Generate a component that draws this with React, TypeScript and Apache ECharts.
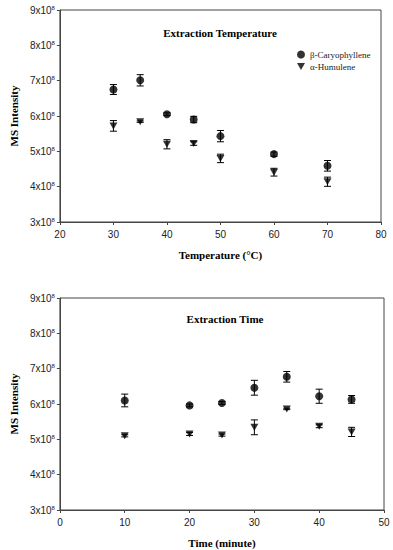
import React, { useEffect, useRef } from "react";
import * as echarts from "echarts";

// values in units of 10^8
const tempX = [30, 35, 40, 45, 50, 60, 70];
const tempCary = [6.75, 7.01, 6.05, 5.9, 5.43, 4.92, 4.59];
const tempCaryErr = [0.14, 0.16, 0.04, 0.09, 0.16, 0.06, 0.15];
const tempHum = [5.72, 5.84, 5.2, 5.22, 4.8, 4.41, 4.14];
const tempHumErr = [0.15, 0.02, 0.13, 0.05, 0.12, 0.11, 0.13];

const timeX = [10, 20, 25, 30, 35, 40, 45];
const timeCary = [6.1, 5.96, 6.03, 6.46, 6.77, 6.22, 6.13];
const timeCaryErr = [0.18, 0.04, 0.04, 0.21, 0.15, 0.2, 0.11];
const timeHum = [5.1, 5.15, 5.12, 5.34, 5.86, 5.37, 5.21];
const timeHumErr = [0.03, 0.04, 0.03, 0.21, 0.02, 0.04, 0.13];

const yTicks = [3, 4, 5, 6, 7, 8, 9];
const seriesNames = ["β-Caryophyllene", "α-Humulene"];

const SANS = "Liberation Sans, Arial, sans-serif";
const SERIF = "Liberation Serif, Times New Roman, serif";
const AXIS_COLOR = "#444";
const DOWN_TRI = "path://M0,0 L10,0 L5,9 Z";

function errData(xs: number[], ys: number[], es: number[]) {
  return xs.map((x, i) => [x, ys[i] - es[i], ys[i] + es[i]]);
}

function errSeries(data: number[][], idx: number) {
  return {
    type: "custom",
    xAxisIndex: idx,
    yAxisIndex: idx,
    silent: true,
    z: 1,
    data,
    renderItem: (params: any, api: any) => {
      const x = api.value(0);
      const lo = api.coord([x, api.value(1)]);
      const hi = api.coord([x, api.value(2)]);
      const hw = 3.5;
      const style = { stroke: "#000", lineWidth: 1 };
      return {
        type: "group",
        children: [
          { type: "line", shape: { x1: lo[0], y1: lo[1], x2: hi[0], y2: hi[1] }, style },
          { type: "line", shape: { x1: lo[0] - hw, y1: lo[1], x2: lo[0] + hw, y2: lo[1] }, style },
          { type: "line", shape: { x1: hi[0] - hw, y1: hi[1], x2: hi[0] + hw, y2: hi[1] }, style },
        ],
      };
    },
  };
}

function yAxis(gridIndex: number) {
  return {
    type: "value",
    gridIndex,
    min: 3,
    max: 9,
    interval: 1,
    name: "MS Intensity",
    nameLocation: "middle",
    nameGap: 38,
    nameTextStyle: { fontFamily: SERIF, fontWeight: "bold", fontSize: 11, color: "#000" },
    axisLine: { show: true, lineStyle: { color: AXIS_COLOR } },
    axisTick: { show: true, length: 3, lineStyle: { color: AXIS_COLOR } },
    splitLine: { show: false },
    axisLabel: {
      margin: 5,
      formatter: (v: number) => (yTicks.includes(v) ? `{b|${v}x10}{s|8}` : ""),
      rich: {
        b: { fontFamily: SANS, fontSize: 10, color: "#222" },
        s: { fontFamily: SANS, fontSize: 6, color: "#222", verticalAlign: "top", padding: [0, 0, 5, 0] },
      },
    },
  };
}

function xAxis(gridIndex: number, min: number, max: number, name: string) {
  return {
    type: "value",
    gridIndex,
    min,
    max,
    interval: 10,
    name,
    nameLocation: "middle",
    nameGap: 27,
    nameTextStyle: { fontFamily: SERIF, fontWeight: "bold", fontSize: 11, color: "#000" },
    axisLine: { show: true, lineStyle: { color: AXIS_COLOR } },
    axisTick: { show: true, length: 3, lineStyle: { color: AXIS_COLOR } },
    splitLine: { show: false },
    axisLabel: { fontFamily: SANS, fontSize: 10, color: "#222", margin: 7 },
  };
}

function scatter(name: string, xs: number[], ys: number[], idx: number, tri: boolean) {
  return {
    type: "scatter",
    name,
    xAxisIndex: idx,
    yAxisIndex: idx,
    z: 2,
    data: xs.map((x, i) => [x, ys[i]]),
    symbol: tri ? DOWN_TRI : "circle",
    symbolSize: tri ? [8, 7] : 8,
    itemStyle: { color: "#000" },
  };
}

export default function App() {
  const ref = useRef<HTMLDivElement>(null);
  useEffect(() => {
    document.body.style.margin = "0";
    const chart = echarts.init(ref.current!, null, { renderer: "svg" });
    chart.setOption({
      animation: false,
      backgroundColor: "#fff",
      title: [
        {
          text: "Extraction Temperature",
          left: 215,
          top: 22,
          textAlign: "center",
          textStyle: { fontFamily: SERIF, fontWeight: "bold", fontSize: 11, color: "#000" },
        },
        {
          text: "Extraction Time",
          left: 220,
          top: 308,
          textAlign: "center",
          textStyle: { fontFamily: SERIF, fontWeight: "bold", fontSize: 11, color: "#000" },
        },
      ],
      legend: {
        data: [
          { name: seriesNames[0], icon: "circle" },
          { name: seriesNames[1], icon: DOWN_TRI },
        ],
        orient: "vertical",
        left: 292,
        top: 45,
        itemWidth: 8,
        itemHeight: 8,
        itemGap: 3,
        textStyle: { fontFamily: SERIF, fontSize: 9, color: "#222" },
      },
      grid: [
        { left: 52, top: 10, width: 329, height: 212, show: true, borderColor: AXIS_COLOR, borderWidth: 1 },
        { left: 57, top: 298, width: 327, height: 212, show: true, borderColor: AXIS_COLOR, borderWidth: 1 },
      ],
      xAxis: [
        xAxis(0, 20, 80, "Temperature (°C)"),
        xAxis(1, 0, 50, "Time (minute)"),
      ],
      yAxis: [yAxis(0), yAxis(1)],
      series: [
        errSeries(errData(tempX, tempCary, tempCaryErr), 0),
        errSeries(errData(tempX, tempHum, tempHumErr), 0),
        scatter(seriesNames[0], tempX, tempCary, 0, false),
        scatter(seriesNames[1], tempX, tempHum, 0, true),
        errSeries(errData(timeX, timeCary, timeCaryErr), 1),
        errSeries(errData(timeX, timeHum, timeHumErr), 1),
        scatter(seriesNames[0], timeX, timeCary, 1, false),
        scatter(seriesNames[1], timeX, timeHum, 1, true),
      ],
    });
    return () => chart.dispose();
  }, []);
  return <div ref={ref} style={{ width: 393, height: 550 }} />;
}
